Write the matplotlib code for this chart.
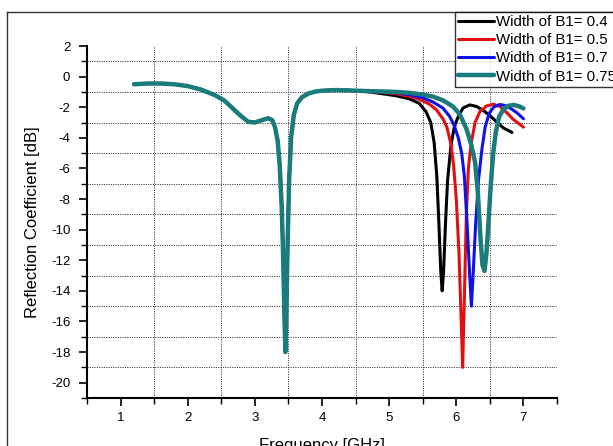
import matplotlib
matplotlib.use("Agg")
import matplotlib.pyplot as plt
from matplotlib.lines import Line2D
from matplotlib.ticker import MultipleLocator

plt.rcParams['font.family'] = ['Liberation Sans', 'DejaVu Sans']
plt.rcParams['axes.unicode_minus'] = False

# Shared low-frequency part (all widths overlap here)
common_x = [1.20, 1.40, 1.60, 1.80, 2.00, 2.20, 2.40, 2.55, 2.70, 2.80, 2.90, 3.00,
            3.10, 3.20, 3.26, 3.30, 3.34, 3.37, 3.40, 3.42, 3.44, 3.455, 3.47, 3.49,
            3.51, 3.54, 3.58, 3.63, 3.70, 3.80, 3.90, 4.00, 4.20, 4.40, 4.50]
common_y = [-0.50, -0.45, -0.45, -0.50, -0.62, -0.85, -1.20, -1.58, -2.20, -2.60, -2.95, -3.00,
            -2.85, -2.72, -2.85, -3.30, -4.20, -5.80, -8.50, -11.5, -15.5, -18.0, -15.0, -10.5,
            -6.80, -4.00, -2.50, -1.75, -1.35, -1.10, -0.98, -0.92, -0.88, -0.90, -0.92]

w04_x = [4.70, 4.90, 5.10, 5.30, 5.45, 5.55, 5.62, 5.67, 5.71, 5.74, 5.77, 5.79, 5.81,
         5.84, 5.87, 5.92, 5.97, 6.02, 6.10, 6.20, 6.30, 6.40, 6.50, 6.60, 6.70, 6.83]
w04_y = [-1.00, -1.12, -1.25, -1.45, -1.75, -2.30, -3.00, -4.30, -6.50, -9.50, -12.8, -14.0, -12.8,
         -9.50, -6.80, -4.50, -3.30, -2.70, -2.05, -1.85, -1.95, -2.20, -2.55, -2.95, -3.35, -3.65]

w05_x = [4.70, 4.90, 5.10, 5.30, 5.45, 5.60, 5.70, 5.80, 5.86, 5.92, 5.96, 6.00, 6.04, 6.07,
         6.095, 6.12, 6.15, 6.18, 6.22, 6.28, 6.35, 6.45, 6.55, 6.65, 6.75, 6.85, 7.00]
w05_y = [-0.97, -1.02, -1.12, -1.28, -1.48, -1.80, -2.15, -2.75, -3.30, -4.40, -5.80, -8.00, -11.5, -15.5,
         -19.0, -14.5, -9.00, -6.00, -4.40, -3.00, -2.30, -1.92, -1.80, -1.95, -2.35, -2.80, -3.30]

w07_x = [4.70, 4.90, 5.10, 5.30, 5.50, 5.65, 5.80, 5.90, 5.97, 6.03, 6.08, 6.12, 6.16, 6.20,
         6.225, 6.25, 6.29, 6.33, 6.38, 6.43, 6.49, 6.56, 6.65, 6.72, 6.80, 6.90, 7.00]
w07_y = [-0.96, -1.00, -1.06, -1.18, -1.38, -1.65, -2.05, -2.60, -3.20, -4.00, -5.00, -6.50, -9.50, -13.0,
         -15.0, -13.0, -9.50, -6.80, -4.80, -3.30, -2.40, -1.98, -1.82, -1.88, -2.05, -2.35, -2.75]

w075_x = [4.70, 4.90, 5.10, 5.30, 5.50, 5.65, 5.80, 5.95, 6.05, 6.15, 6.22, 6.28, 6.32, 6.36,
          6.39, 6.42, 6.45, 6.48, 6.51, 6.55, 6.59, 6.64, 6.70, 6.78, 6.86, 6.94, 7.00]
w075_y = [-0.95, -0.97, -1.00, -1.06, -1.17, -1.30, -1.55, -1.95, -2.45, -3.40, -4.40, -5.60, -7.50, -10.5,
          -12.3, -12.7, -11.5, -9.50, -7.30, -5.00, -3.60, -2.60, -2.15, -1.90, -1.85, -1.95, -2.08]

labels = ["Width of B1= 0.4", "Width of B1= 0.5", "Width of B1= 0.7", "Width of B1= 0.75"]
colors = ["#000000", "#e01010", "#1010e8", "#1a7b7b"]

fig = plt.figure(figsize=(6.13, 4.46), dpi=100)
ax = fig.add_axes([87/613, 1 - 398/446, (557 - 87)/613, (398 - 46)/446])

series = [(w04_x, w04_y), (w05_x, w05_y), (w07_x, w07_y), (w075_x, w075_y)]
for (sx, sy), c, lab in zip(series, colors, labels):
    xs = common_x + sx
    ys = common_y + sy
    lw = 3.2 if c == "#1a7b7b" else 2.2
    ax.plot(xs, ys, color=c, lw=lw, solid_joinstyle='round', solid_capstyle='round', label=lab)

ax.set_xlim(0.5, 7.5)
ax.set_ylim(-21, 2)
ax.xaxis.set_minor_locator(MultipleLocator(0.5))
ax.yaxis.set_minor_locator(MultipleLocator(1))
ax.set_xticks([1, 2, 3, 4, 5, 6, 7])
ax.set_yticks(list(range(2, -21, -2)))

for s in ['top', 'right']:
    ax.spines[s].set_visible(False)
for s in ['left', 'bottom']:
    ax.spines[s].set_linewidth(1.5)

ax.tick_params(axis='both', which='major', direction='out', length=6, width=1.2, labelsize=9.5)
ax.tick_params(axis='y', which='major', pad=6)
ax.tick_params(axis='x', which='major', pad=4)
ax.tick_params(axis='both', which='minor', direction='out', length=4, width=1.0)
ax.grid(True, which='minor', linestyle=(0, (1.2, 1.2)), color='#444444', lw=0.7)
ax.grid(False, which='major')

ax.set_xlabel("Frequency [GHz]", fontsize=12, labelpad=10)
ax.set_ylabel("Reflection Coefficient [dB]", fontsize=12, labelpad=8)

# figure frame (left/top edges)
fig.add_artist(Line2D([7/613, 7/613], [0, 1 - 12/446], transform=fig.transFigure, color='#333333', lw=1.0))
fig.add_artist(Line2D([7/613, 1], [1 - 12/446, 1 - 12/446], transform=fig.transFigure, color='#333333', lw=1.0))

leg = fig.legend(loc='upper left', bbox_to_anchor=(455/613, 1 - 12/446), fontsize=10.8,
                 frameon=True, fancybox=False, edgecolor='black', handlelength=2.4,
                 handletextpad=0.15, labelspacing=0.28, borderpad=0.2, borderaxespad=0)
leg.get_frame().set_linewidth(1.0)

fig.savefig("out.png", dpi=100)
